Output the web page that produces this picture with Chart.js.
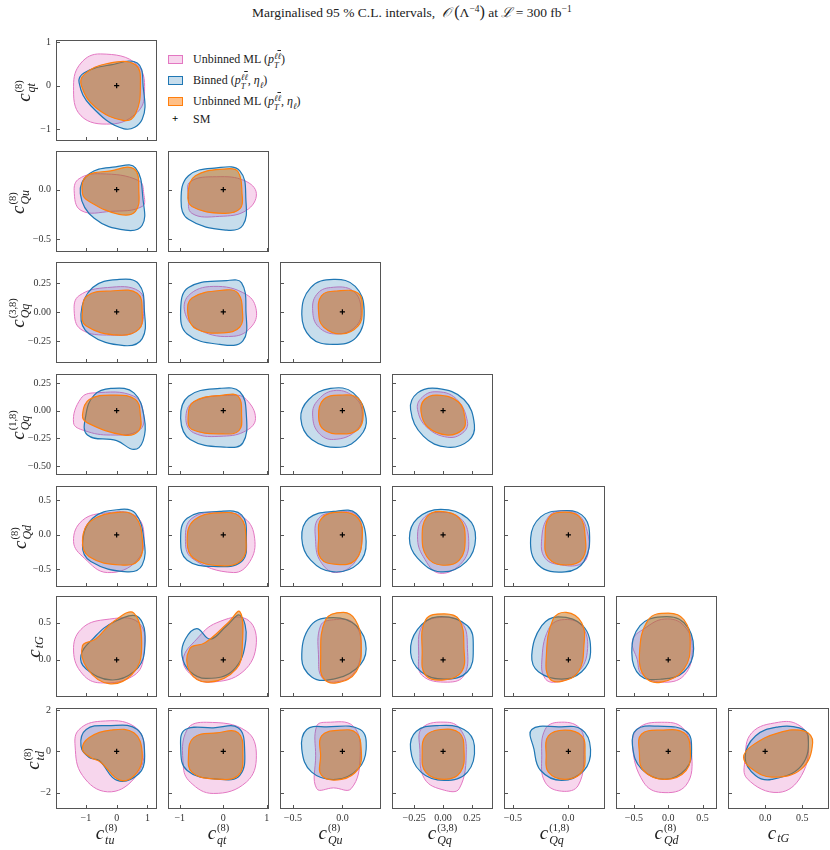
<!DOCTYPE html>
<html>
<head>
<meta charset="utf-8">
<script src="https://cdn.jsdelivr.net/npm/chart.js@4.4.1/dist/chart.umd.min.js"></script>
<style>
    body { margin: 0; background: #fff; width: 830px; height: 850px; overflow: hidden; position: relative; font-family: 'Liberation Serif', serif; color: #222; }
    canvas { position: absolute; }
    .title { position: absolute; left: 252px; top: 3px; font-size: 13.5px; white-space: nowrap; }
    .title sup { font-size: 70%; }
    .ax { position: absolute; font-size: 19px; line-height: 1; white-space: nowrap; }
    .st { display: inline-flex; flex-direction: column; vertical-align: middle; font-size: 10.5px; line-height: 1; margin-left: 1px; }
    .st .sb { font-style: italic; font-size: 12px; }
    .st.nosup { vertical-align: -0.3em; }
    .legend { position: absolute; left: 168px; top: 52px; font-size: 12px; }
    .li { position: absolute; left: 0; white-space: nowrap; height: 14px; line-height: 14px; }
    .sw { position: absolute; left: 0; top: 3px; width: 13px; height: 7px; border: 1px solid; }
    .lt { position: absolute; left: 25px; top: 0; }
    .s2 { display: inline-flex; flex-direction: column; vertical-align: middle; font-size: 8.5px; line-height: 1; font-style: italic; }
    .ob { text-decoration: overline; }
</style>
</head>
<body>
<div class="title">Marginalised 95 % C.L. intervals, &nbsp;<i>𝒪</i> <span style="font-size:120%">(</span>Λ<sup>−4</sup><span style="font-size:120%">)</span> at <i>ℒ</i> = 300 fb<sup>−1</sup></div>
<div class="legend" id="legend"></div>
<div id="fig"></div>
<script>
// parameters (axis order of the corner plot)
const paramSup = ['(8)', '(8)', '(8)', '(3,8)', '(1,8)', '(8)', '', '(8)'];
const paramSub = ['tu', 'qt', 'Qu', 'Qq', 'Qq', 'Qd', 'tG', 'td'];
const axisMin = [-1.97, -1.27, -0.63, -0.44, -0.58, -0.76, -0.50, -2.78];
const axisMax = [1.31, 1.05, 0.39, 0.43, 0.33, 0.71, 0.86, 2.10];
const xTicks = [[-1, 0, 1], [-1, 0, 1], [-0.5, 0], [-0.25, 0, 0.25], [-0.5, 0], [-0.5, 0, 0.5], [0, 0.5], []];
const yTicks = [[], [-1, 0, 1], [-0.5, 0], [-0.25, 0, 0.25], [-0.5, -0.25, 0, 0.25], [-0.5, 0, 0.5], [0, 0.5], [-2, 0, 2]];
const xDecimals = [0, 0, 1, 2, 1, 1, 1, 0];
const yDecimals = [0, 0, 1, 2, 2, 1, 1, 0];
const smPoint = [0, 0];

// legend entries
const methodLabels = [
    'Unbinned ML (<i>p</i><span class="s2"><span>ℓ<span class="ob">ℓ</span></span><span>T</span></span>)',
    'Binned (<i>p</i><span class="s2"><span>ℓ<span class="ob">ℓ</span></span><span>T</span></span>, <i>η</i><sub style="font-size:8.5px"><i>ℓ</i></sub>)',
    'Unbinned ML (<i>p</i><span class="s2"><span>ℓ<span class="ob">ℓ</span></span><span>T</span></span>, <i>η</i><sub style="font-size:8.5px"><i>ℓ</i></sub>)'
];
const lineColors = ['#e377c2', '#1f77b4', '#ff7f0e'];
const fillColors = ['rgba(227,119,194,0.3)', 'rgba(31,119,180,0.25)', 'rgba(200,110,15,0.5)'];
const swatchColors = ['rgba(227,119,194,0.3)', 'rgba(31,119,180,0.25)', 'rgba(255,127,14,0.5)'];

// 95% contours, panel order: row by row (y = param r+1), column c = 0..r (x = param c)
const unbinnedPt = [
    [[0.90,-0.23],[0.67,0.48],[-0.52,0.73],[-1.16,0.52],[-1.40,-0.01],[-1.16,-0.69],[-0.19,-0.88],[0.61,-0.65]],
    [[0.88,-0.04],[0.72,0.09],[-0.52,0.16],[-1.22,0.11],[-1.38,-0.01],[-1.16,-0.21],[-0.19,-0.22],[0.83,-0.17]],
    [[0.76,-0.04],[0.49,0.09],[-0.15,0.13],[-0.76,0.08],[-0.80,-0.07],[-0.72,-0.24],[-0.08,-0.27],[0.53,-0.21]],
    [[0.88,0.01],[0.72,0.18],[-0.30,0.21],[-1.22,0.14],[-1.38,0.01],[-1.16,-0.15],[-0.19,-0.20],[0.67,-0.16]],
    [[0.76,0.01],[0.53,0.15],[-0.23,0.22],[-0.80,0.14],[-0.87,-0.02],[-0.53,-0.16],[0.23,-0.21],[0.64,-0.13]],
    [[0.19,0.01],[0.11,0.18],[-0.12,0.21],[-0.26,0.15],[-0.30,0.01],[-0.24,-0.13],[-0.06,-0.19],[0.13,-0.13]],
    [[0.88,-0.04],[0.56,0.13],[-0.73,0.16],[-1.16,0.11],[-1.40,-0.11],[-1.05,-0.18],[-0.19,-0.22],[0.72,-0.18]],
    [[0.74,-0.07],[0.53,0.10],[0.23,0.14],[-0.68,0.08],[-0.86,-0.07],[-0.68,-0.20],[0.0,-0.23],[0.53,-0.18]],
    [[0.20,-0.01],[0.11,0.13],[-0.09,0.18],[-0.26,0.08],[-0.30,-0.05],[-0.24,-0.20],[-0.09,-0.26],[0.14,-0.18]],
    [[0.21,-0.10],[0.11,0.11],[-0.07,0.17],[-0.19,0.11],[-0.22,0.01],[-0.14,-0.15],[0.04,-0.24],[0.17,-0.20]],
    [[0.88,0.04],[0.56,0.29],[-0.30,0.32],[-1.11,0.21],[-1.40,-0.10],[-1.05,-0.34],[-0.30,-0.55],[0.67,-0.37]],
    [[0.72,-0.05],[0.49,0.24],[-0.08,0.33],[-0.72,0.24],[-0.87,-0.05],[-0.72,-0.34],[0.23,-0.55],[0.61,-0.39]],
    [[0.20,0.0],[0.14,0.29],[-0.02,0.33],[-0.24,0.24],[-0.27,-0.10],[-0.22,-0.39],[-0.07,-0.55],[0.13,-0.39]],
    [[0.22,-0.05],[0.15,0.24],[-0.03,0.33],[-0.17,0.24],[-0.22,-0.03],[-0.17,-0.32],[-0.03,-0.56],[0.17,-0.39]],
    [[0.18,-0.25],[0.17,0.05],[0.09,0.29],[-0.06,0.35],[-0.18,0.26],[-0.24,-0.05],[-0.21,-0.34],[-0.06,-0.44],[0.12,-0.42]],
    [[0.88,0.06],[0.72,0.50],[-0.41,0.54],[-1.16,0.41],[-1.40,0.12],[-1.11,-0.19],[-0.52,-0.31],[0.56,-0.21]],
    [[0.76,0.23],[0.53,0.55],[-0.15,0.50],[-0.61,0.28],[-0.92,0.01],[-0.72,-0.21],[-0.30,-0.30],[0.45,-0.16]],
    [[0.19,0.19],[0.11,0.50],[-0.09,0.54],[-0.22,0.46],[-0.24,0.01],[-0.21,-0.23],[-0.09,-0.30],[0.11,-0.19]],
    [[0.21,0.15],[0.16,0.50],[-0.03,0.57],[-0.18,0.46],[-0.21,0.06],[-0.18,-0.21],[0.04,-0.30],[0.18,-0.21]],
    [[0.17,0.10],[0.12,0.46],[-0.06,0.54],[-0.18,0.41],[-0.24,-0.03],[-0.21,-0.25],[-0.12,-0.30],[0.07,-0.19]],
    [[0.35,0.15],[0.23,0.46],[-0.05,0.55],[-0.35,0.42],[-0.52,0.26],[-0.45,0.0],[-0.39,-0.19],[-0.10,-0.30],[0.23,-0.21]],
    [[0.90,0.11],[0.56,1.22],[-0.52,1.46],[-1.22,1.06],[-1.35,0.27],[-1.11,-1.16],[-0.30,-1.95],[0.56,-1.32]],
    [[0.76,-0.21],[0.53,0.98],[-0.38,1.41],[-0.83,1.06],[-0.92,-0.68],[-0.76,-1.48],[-0.23,-2.03],[0.53,-1.48]],
    [[0.18,-0.21],[0.11,1.22],[-0.16,1.41],[-0.26,1.22],[-0.27,-0.21],[-0.26,-1.79],[-0.09,-1.76],[0.09,-1.79]],
    [[0.20,0.11],[0.15,1.06],[0.04,1.41],[-0.18,1.14],[-0.20,0.11],[-0.16,-1.32],[0.01,-1.87],[0.14,-1.79]],
    [[0.14,0.11],[0.10,1.14],[-0.09,1.41],[-0.21,1.06],[-0.24,-0.21],[-0.21,-1.48],[-0.06,-1.92],[0.09,-1.63]],
    [[0.34,-0.05],[0.21,1.14],[-0.10,1.41],[-0.43,1.14],[-0.52,0.27],[-0.36,-1.48],[-0.10,-1.98],[0.26,-1.63]],
    [[0.58,0.59],[0.44,1.30],[0.18,1.41],[-0.18,0.90],[-0.27,-0.37],[-0.24,-1.32],[0.18,-1.98],[0.49,-1.16]]
];
const binned = [
    [[0.86,-0.01],[0.67,0.52],[-0.19,0.48],[-1.05,0.30],[-1.22,0.07],[-0.84,-0.46],[0.24,-0.99],[0.83,-0.77]],
    [[0.86,-0.11],[0.61,0.22],[-0.03,0.23],[-0.89,0.16],[-1.18,-0.04],[-0.73,-0.29],[0.29,-0.41],[0.83,-0.36]],
    [[0.52,-0.11],[0.38,0.19],[-0.15,0.22],[-0.80,0.14],[-0.97,-0.11],[-0.80,-0.30],[0.08,-0.41],[0.45,-0.36]],
    [[0.90,0.01],[0.72,0.24],[0.08,0.28],[-0.78,0.21],[-1.16,-0.02],[-0.89,-0.19],[0.24,-0.29],[0.83,-0.23]],
    [[0.52,0.01],[0.42,0.25],[0.08,0.27],[-0.80,0.21],[-0.98,0.01],[-0.83,-0.19],[-0.08,-0.28],[0.45,-0.25]],
    [[0.22,0.01],[0.13,0.22],[-0.09,0.28],[-0.32,0.21],[-0.41,-0.02],[-0.32,-0.22],[-0.09,-0.28],[0.14,-0.22]],
    [[0.90,-0.07],[0.56,0.16],[-0.19,0.20],[-0.73,0.14],[-1.0,-0.04],[-0.95,-0.22],[0.0,-0.27],[0.56,-0.35],[0.86,-0.27]],
    [[0.53,-0.04],[0.38,0.17],[-0.08,0.20],[-0.80,0.13],[-0.98,-0.07],[-0.76,-0.26],[0.08,-0.33],[0.45,-0.29]],
    [[0.24,-0.07],[0.11,0.16],[-0.12,0.20],[-0.34,0.10],[-0.42,-0.07],[-0.31,-0.26],[-0.02,-0.33],[0.18,-0.23]],
    [[0.27,-0.13],[0.18,0.10],[-0.05,0.20],[-0.22,0.16],[-0.28,0.01],[-0.17,-0.23],[0.04,-0.33],[0.22,-0.27]],
    [[0.88,-0.05],[0.61,0.31],[0.13,0.37],[-0.78,0.24],[-1.11,-0.15],[-0.84,-0.39],[0.34,-0.54],[0.83,-0.44]],
    [[0.53,-0.05],[0.42,0.29],[-0.08,0.34],[-0.83,0.24],[-0.98,-0.10],[-0.83,-0.37],[-0.23,-0.46],[0.42,-0.39]],
    [[0.24,-0.10],[0.14,0.31],[-0.09,0.34],[-0.34,0.24],[-0.41,-0.05],[-0.32,-0.37],[-0.09,-0.54],[0.16,-0.42]],
    [[0.28,-0.05],[0.21,0.24],[-0.02,0.37],[-0.22,0.24],[-0.29,-0.05],[-0.22,-0.34],[-0.02,-0.54],[0.20,-0.39]],
    [[0.19,0.04],[0.12,0.29],[-0.06,0.35],[-0.25,0.26],[-0.34,-0.05],[-0.27,-0.44],[-0.03,-0.54],[0.14,-0.39]],
    [[0.90,0.10],[0.72,0.57],[-0.09,0.51],[-0.78,0.28],[-1.16,0.06],[-1.0,-0.12],[-0.19,-0.27],[0.56,-0.16]],
    [[0.52,0.28],[0.38,0.60],[0.08,0.46],[-0.30,0.28],[-0.61,0.42],[-0.87,0.28],[-0.95,0.06],[-0.76,-0.16],[-0.38,-0.25],[0.23,-0.14]],
    [[0.24,0.15],[0.14,0.46],[-0.09,0.57],[-0.32,0.46],[-0.41,0.01],[-0.31,-0.23],[-0.14,-0.27],[0.14,-0.12]],
    [[0.26,0.15],[0.21,0.46],[-0.05,0.58],[-0.22,0.41],[-0.28,0.10],[-0.19,-0.16],[0.01,-0.26],[0.21,-0.16]],
    [[0.20,0.10],[0.13,0.46],[-0.09,0.58],[-0.24,0.46],[-0.33,0.06],[-0.27,-0.16],[-0.06,-0.26],[0.12,-0.16]],
    [[0.37,0.15],[0.23,0.50],[-0.10,0.58],[-0.41,0.46],[-0.53,0.10],[-0.41,-0.21],[-0.10,-0.26],[0.23,-0.16]],
    [[0.91,-0.21],[0.67,1.06],[-0.30,1.25],[-0.99,1.06],[-1.16,0.27],[-0.89,-0.29],[-0.57,-0.44],[0.02,-1.40],[0.72,-1.08]],
    [[0.49,0.11],[0.34,1.14],[-0.23,1.14],[-0.87,1.06],[-0.98,0.27],[-0.83,-0.92],[-0.08,-1.35],[0.38,-1.16]],
    [[0.24,0.11],[0.18,1.06],[-0.16,1.19],[-0.36,1.06],[-0.41,0.11],[-0.31,-1.0],[-0.06,-1.35],[0.16,-0.84]],
    [[0.27,0.27],[0.18,1.06],[-0.05,1.25],[-0.23,0.98],[-0.28,0.11],[-0.19,-1.0],[0.01,-1.40],[0.21,-1.0]],
    [[0.20,0.11],[0.12,1.06],[-0.09,1.19],[-0.33,1.06],[-0.31,0.11],[-0.25,-0.92],[-0.06,-1.40],[0.14,-0.92]],
    [[0.34,0.11],[0.26,0.98],[-0.15,1.22],[-0.46,1.06],[-0.52,0.27],[-0.39,-0.84],[-0.05,-1.35],[0.26,-0.84]],
    [[0.58,0.75],[0.46,1.14],[0.18,1.19],[-0.13,0.75],[-0.27,-0.29],[-0.13,-1.16],[0.09,-1.35],[0.49,-0.68]]
];
const unbinnedPtEta = [
    [[0.77,-0.01],[0.61,0.48],[-0.30,0.51],[-1.05,0.26],[-1.14,-0.01],[-0.68,-0.50],[0.24,-0.80],[0.61,-0.65]],
    [[0.72,-0.01],[0.56,0.21],[-0.19,0.19],[-1.0,0.13],[-1.11,-0.04],[-0.89,-0.12],[0.08,-0.25],[0.61,-0.22]],
    [[0.43,-0.04],[0.34,0.18],[0.08,0.21],[-0.64,0.14],[-0.81,-0.04],[-0.72,-0.17],[0.0,-0.24],[0.39,-0.19]],
    [[0.83,-0.01],[0.67,0.16],[-0.19,0.18],[-0.95,0.14],[-1.11,0.01],[-1.0,-0.12],[0.08,-0.20],[0.72,-0.15]],
    [[0.44,0.01],[0.34,0.16],[0.08,0.19],[-0.72,0.12],[-0.81,-0.03],[-0.61,-0.15],[0.0,-0.18],[0.38,-0.13]],
    [[0.20,0.01],[0.16,0.16],[-0.06,0.18],[-0.21,0.14],[-0.24,-0.01],[-0.19,-0.13],[-0.01,-0.19],[0.16,-0.12]],
    [[0.77,-0.04],[0.61,0.10],[-0.09,0.14],[-0.89,0.10],[-1.11,-0.04],[-0.95,-0.11],[0.24,-0.22],[0.72,-0.18]],
    [[0.42,-0.04],[0.34,0.13],[0.0,0.14],[-0.68,0.08],[-0.81,-0.07],[-0.72,-0.17],[0.0,-0.21],[0.36,-0.18]],
    [[0.21,-0.04],[0.16,0.11],[-0.02,0.14],[-0.19,0.10],[-0.24,-0.05],[-0.19,-0.17],[-0.01,-0.21],[0.16,-0.17]],
    [[0.19,-0.08],[0.13,0.08],[-0.05,0.14],[-0.16,0.10],[-0.19,-0.01],[-0.13,-0.15],[0.04,-0.22],[0.17,-0.17]],
    [[0.83,-0.05],[0.61,0.26],[0.13,0.33],[-0.84,0.20],[-1.11,-0.08],[-0.89,-0.32],[0.13,-0.44],[0.72,-0.37]],
    [[0.52,-0.05],[0.38,0.26],[-0.08,0.32],[-0.68,0.21],[-0.83,-0.10],[-0.68,-0.34],[-0.08,-0.45],[0.42,-0.37]],
    [[0.20,-0.05],[0.16,0.24],[-0.01,0.33],[-0.21,0.24],[-0.24,-0.05],[-0.22,-0.34],[-0.06,-0.43],[0.13,-0.37]],
    [[0.19,-0.05],[0.14,0.24],[-0.02,0.34],[-0.14,0.26],[-0.18,-0.03],[-0.14,-0.32],[-0.02,-0.44],[0.14,-0.37]],
    [[0.15,0.0],[0.10,0.26],[-0.03,0.33],[-0.17,0.26],[-0.21,-0.05],[-0.18,-0.34],[-0.02,-0.44],[0.13,-0.34]],
    [[0.81,0.15],[0.56,0.63],[-0.09,0.52],[-0.68,0.28],[-1.11,0.19],[-0.95,-0.12],[-0.25,-0.32],[0.51,-0.19]],
    [[0.44,0.23],[0.38,0.65],[0.11,0.50],[-0.42,0.23],[-0.77,0.15],[-0.77,-0.16],[-0.34,-0.30],[0.30,-0.12]],
    [[0.19,0.23],[0.13,0.54],[0.01,0.64],[-0.17,0.54],[-0.22,-0.03],[-0.19,-0.25],[-0.06,-0.31],[0.14,-0.16]],
    [[0.18,0.15],[0.14,0.54],[0.01,0.62],[-0.15,0.54],[-0.18,0.10],[-0.15,-0.21],[0.01,-0.27],[0.16,-0.16]],
    [[0.14,0.19],[0.12,0.50],[-0.02,0.64],[-0.14,0.54],[-0.20,0.01],[-0.17,-0.25],[-0.06,-0.29],[0.09,-0.16]],
    [[0.32,0.23],[0.23,0.54],[0.0,0.63],[-0.29,0.54],[-0.42,0.06],[-0.34,-0.23],[-0.10,-0.30],[0.23,-0.12]],
    [[0.83,-0.05],[0.56,0.90],[-0.19,1.03],[-0.89,0.67],[-1.11,0.11],[-0.84,-0.29],[-0.52,-0.52],[0.13,-1.40],[0.67,-1.0]],
    [[0.45,-0.05],[0.34,0.90],[-0.15,0.90],[-0.68,0.67],[-0.80,-0.21],[-0.72,-1.0],[-0.23,-1.32],[0.34,-1.16]],
    [[0.19,0.11],[0.14,0.90],[-0.02,1.03],[-0.21,0.75],[-0.22,-0.21],[-0.21,-1.16],[-0.01,-1.35],[0.16,-0.84]],
    [[0.18,0.11],[0.14,0.90],[-0.02,1.06],[-0.15,0.75],[-0.18,-0.05],[-0.15,-1.0],[0.01,-1.35],[0.15,-1.0]],
    [[0.15,-0.05],[0.12,0.75],[-0.03,1.03],[-0.18,0.75],[-0.20,-0.21],[-0.18,-1.0],[-0.03,-1.35],[0.12,-1.0]],
    [[0.32,0.11],[0.23,0.90],[-0.10,1.03],[-0.39,0.83],[-0.42,-0.05],[-0.36,-0.92],[-0.05,-1.35],[0.26,-0.92]],
    [[0.64,0.43],[0.53,0.98],[0.18,0.90],[-0.18,0.27],[-0.29,-0.29],[-0.18,-0.84],[0.09,-1.24],[0.49,-0.84]]
];
const contourSets = [unbinnedPt, binned, unbinnedPtEta];

// layout of the grid
const LEFT = 48, BOTTOM = 22, PAD = 2, SIZE = 101;
const colLeft = [56, 168, 280, 392, 504, 616, 728];
const rowTop = [40, 151, 262, 374, 486, 596, 708];
const yLabelX = [25, 19, 19, 19, 21, 35, 34];

function fmt(v, d) {
    return (v < 0 ? '\u2212' : '') + Math.abs(v).toFixed(d);
}

function labelHtml(i) {
    const sup = paramSup[i] ? '<span class="sp">' + paramSup[i] + '</span>' : '';
    return '<i>c</i><span class="st' + (paramSup[i] ? '' : ' nosup') + '">' + sup +
        '<span class="sb">' + paramSub[i] + '</span></span>';
}

// close each contour into a smooth loop (same trick the radar chart uses)
const closeLoops = {
    id: 'closeLoops',
    afterDatasetsUpdate(chart) {
        chart.getSortedVisibleDatasetMetas().forEach(meta => {
            if (meta.dataset) {
                meta.dataset._loop = true;
                meta.dataset._fullLoop = true;
            }
        });
    }
};

// box around the panel + inward tick marks
const frame = {
    id: 'frame',
    afterDraw(chart) {
        const {ctx, chartArea: a, scales} = chart;
        const l = Math.round(a.left) + 0.5, t = Math.round(a.top) + 0.5;
        const rgt = Math.round(a.right) - 0.5, b = Math.round(a.bottom) - 0.5;
        ctx.save();
        ctx.strokeStyle = '#555';
        ctx.lineWidth = 1;
        ctx.strokeRect(l, t, rgt - l, b - t);
        ctx.beginPath();
        scales.x.ticks.forEach(tk => {
            const px = Math.round(scales.x.getPixelForValue(tk.value)) + 0.5;
            ctx.moveTo(px, b); ctx.lineTo(px, b - 3.5);
        });
        scales.y.ticks.forEach(tk => {
            const py = Math.round(scales.y.getPixelForValue(tk.value)) + 0.5;
            ctx.moveTo(l, py); ctx.lineTo(l + 3.5, py);
        });
        ctx.stroke();
        ctx.restore();
    }
};

// keep every panel the same size whether or not it shows tick labels
function fixBox(s, horizontal) {
    if (horizontal) s.height = BOTTOM; else s.width = LEFT;
    s.paddingTop = 0; s.paddingBottom = 0; s.paddingLeft = 0; s.paddingRight = 0;
}

const fig = document.getElementById('fig');
const tickFont = {family: 'Liberation Serif', size: 10};

let k = 0;
for (let r = 0; r < 7; r++) {
    for (let c = 0; c <= r; c++) {
        const py = r + 1, px = c;
        const cv = document.createElement('canvas');
        cv.width = LEFT + SIZE + PAD;
        cv.height = PAD + SIZE + BOTTOM;
        cv.style.left = (colLeft[c] - LEFT) + 'px';
        cv.style.top = (rowTop[r] - PAD) + 'px';
        fig.appendChild(cv);

        const datasets = [{
            data: [{x: smPoint[0], y: smPoint[1]}],
            pointStyle: 'cross', pointRadius: 2.6, borderColor: '#000', borderWidth: 1.2,
            showLine: false, order: 0
        }];
        contourSets.forEach((set, m) => {
            datasets.push({
                data: set[k].map(p => ({x: p[0], y: p[1]})),
                showLine: true,
                fill: 'shape',
                borderColor: lineColors[m],
                backgroundColor: fillColors[m],
                borderWidth: m === 0 ? 1 : 1.2,
                pointRadius: 0,
                tension: 0.42,
                order: 3 - m
            });
        });

        new Chart(cv, {
            type: 'scatter',
            data: {datasets},
            options: {
                responsive: false,
                animation: false,
                events: [],
                layout: {autoPadding: false, padding: {top: PAD, right: PAD, left: 0, bottom: 0}},
                plugins: {legend: {display: false}, tooltip: {enabled: false}},
                scales: {
                    x: {
                        type: 'linear', min: axisMin[px], max: axisMax[px],
                        grid: {display: false, drawTicks: false}, border: {display: false},
                        afterBuildTicks: s => { s.ticks = xTicks[px].map(v => ({value: v})); },
                        afterFit: s => fixBox(s, true),
                        ticks: {display: r === 6, autoSkip: false, maxRotation: 0, padding: 3, color: '#333',
                            font: tickFont, callback: v => fmt(v, xDecimals[px])}
                    },
                    y: {
                        type: 'linear', min: axisMin[py], max: axisMax[py],
                        grid: {display: false, drawTicks: false}, border: {display: false},
                        afterBuildTicks: s => { s.ticks = yTicks[py].map(v => ({value: v})); },
                        afterFit: s => fixBox(s, false),
                        ticks: {display: c === 0, autoSkip: false, padding: 5, color: '#333',
                            font: tickFont, callback: v => fmt(v, yDecimals[py])}
                    }
                }
            },
            plugins: [closeLoops, frame]
        });
        k++;
    }
}

// axis titles
for (let r = 0; r < 7; r++) {
    const d = document.createElement('div');
    d.className = 'ax';
    d.innerHTML = labelHtml(r + 1);
    d.style.left = yLabelX[r] + 'px';
    d.style.top = (rowTop[r] + SIZE / 2) + 'px';
    d.style.transform = 'translate(-50%,-50%) rotate(-90deg)';
    document.body.appendChild(d);
}
for (let c = 0; c < 7; c++) {
    const d = document.createElement('div');
    d.className = 'ax';
    d.innerHTML = labelHtml(c);
    d.style.left = (colLeft[c] + SIZE / 2) + 'px';
    d.style.top = '823px';
    d.style.transform = 'translateX(-50%)';
    document.body.appendChild(d);
}

// legend
const legend = document.getElementById('legend');
const rowsY = [0, 21, 42];
methodLabels.forEach((txt, m) => {
    const li = document.createElement('div');
    li.className = 'li';
    li.style.top = rowsY[m] + 'px';
    li.innerHTML = '<span class="sw" style="background:' + swatchColors[m] + ';border-color:' + lineColors[m] +
        '"></span><span class="lt">' + txt + '</span>';
    legend.appendChild(li);
});
const smRow = document.createElement('div');
smRow.className = 'li';
smRow.style.top = '60px';
smRow.innerHTML = '<span style="position:absolute;left:4px;top:-1px;font-size:11px;font-weight:bold;color:#000">+</span><span class="lt">SM</span>';
legend.appendChild(smRow);
</script>
</body>
</html>
